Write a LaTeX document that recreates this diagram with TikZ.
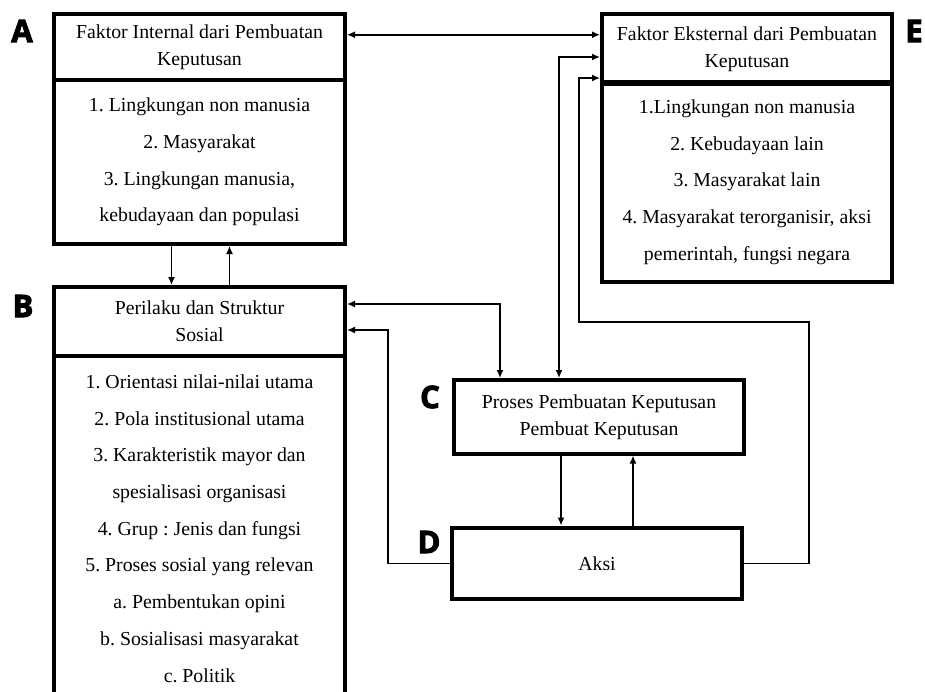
\documentclass[tikz,border=0pt]{standalone}
\usepackage{fontspec}
\setmainfont{Liberation Serif}
\newfontfamily\tagfont{Open Sans}[BoldFeatures={FakeBold=3}]
\usetikzlibrary{arrows.meta}
\frenchspacing

\begin{document}
\begin{tikzpicture}[x=1pt,y=-1pt,
	box/.style={draw,line width=4pt,minimum width=291pt,align=center,inner sep=2pt},
	head/.style={box,font=\fontsize{19.8}{27}\selectfont},
	list/.style={box,font=\fontsize{19.8}{36.7}\selectfont},
	tag/.style={font=\tagfont\bfseries\fontsize{31}{31}\selectfont},
	link/.style={line width=1.5pt,>={Latex[length=8pt,width=7pt]}}]
	\clip (0,0) rectangle (925,691);
	\node[head,minimum height=66.5pt] (Atitle) at (199.5,46.75) {Faktor Internal dari Pembuatan\\Keputusan};
	\node[list,minimum height=164pt] (Abody) at (199.5,162) {1. Lingkungan non manusia\\2. Masyarakat\\3. Lingkungan manusia,\\kebudayaan dan populasi};
	\node[head,minimum width=290pt,minimum height=70.5pt] (Etitle) at (747,48.75) {Faktor Eksternal dari Pembuatan\\Keputusan};
	\node[list,minimum width=290pt,minimum height=200pt] (Ebody) at (747,182) {1.Lingkungan non manusia\\2. Kebudayaan lain\\3. Masyarakat lain\\4. Masyarakat terorganisir, aksi\\pemerintah, fungsi negara};
	\node[head,minimum height=68.5pt] (Btitle) at (199.5,321.25) {Perilaku dan Struktur\\Sosial};
	\node[list,minimum height=346pt] (Bbody) at (199.5,528.5) {1. Orientasi nilai-nilai utama\\2. Pola institusional utama\\3. Karakteristik mayor dan\\spesialisasi organisasi\\4. Grup : Jenis dan fungsi\\5. Proses sosial yang relevan\\a. Pembentukan opini\\b. Sosialisasi masyarakat\\c. Politik};
	\node[head,minimum width=290pt,minimum height=73.5pt] (C) at (599,416.75) {Proses Pembuatan Keputusan\\Pembuat Keputusan};
	\node[head,minimum width=290pt,minimum height=71.5pt] (D) at (597,563.25) {Aksi};
	\node[tag] (labA) at (22,31) {A};
	\node[tag] (labB) at (23,306) {B};
	\node[tag] (labC) at (430,397) {C};
	\node[tag] (labD) at (429,542) {D};
	\node[tag] (labE) at (914,31) {E};
	\coordinate (bc) at (500,304);
	\coordinate (db) at (388,330);
	\coordinate (ce) at (559,57);
	\coordinate (de1) at (809,322);
	\coordinate (de2) at (579,78);
	\draw[link,<->] ([yshift=12pt]Atitle.east) -- ([yshift=12pt]Atitle.east -| Etitle.west);
	\draw[link,->] ([xshift=-28pt]Abody.south) -- ([xshift=-28pt]Btitle.north);
	\draw[link,->] ([xshift=30pt]Btitle.north) -- ([xshift=30pt]Abody.south);
	\draw[link,<->] (Btitle.east |- bc) -- (bc) -- (C.north -| bc);
	\draw[link,->] (D.west) -| (db) -- (Btitle.east |- db);
	\draw[link,<->] (C.north -| ce) -- (ce) -- (Etitle.west |- ce);
	\draw[link,->] (D.east) -| (de1) -| (de2) -- (Etitle.west |- de2);
	\draw[link,->] ([xshift=-38pt]C.south) -- ([xshift=-38pt]C.south |- D.north);
	\draw[link,->] ([xshift=34pt]C.south |- D.north) -- ([xshift=34pt]C.south);
\end{tikzpicture}
\end{document}
